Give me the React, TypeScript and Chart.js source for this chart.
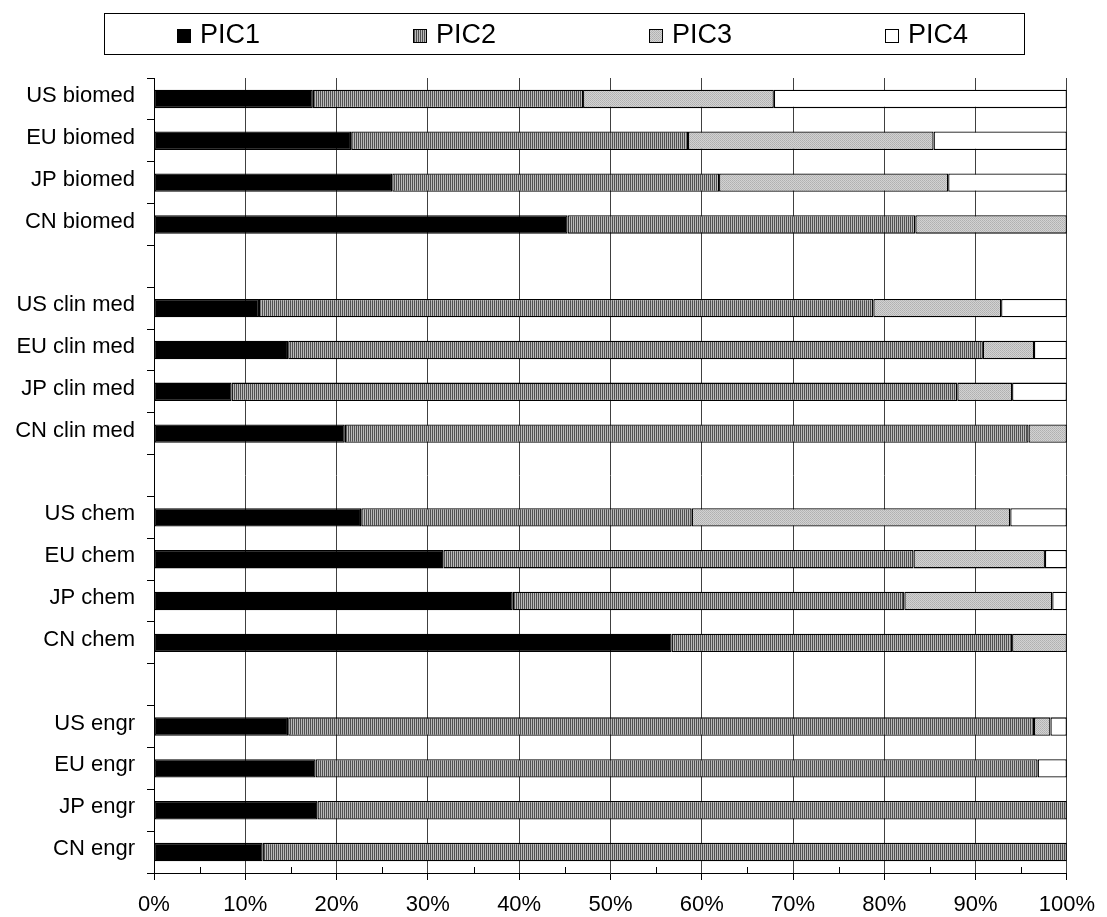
import React, { useEffect, useRef } from 'react';
import { Chart, registerables } from 'chart.js';

Chart.register(...registerables);

const categories = [
  'US biomed', 'EU biomed', 'JP biomed', 'CN biomed', '',
  'US clin med', 'EU clin med', 'JP clin med', 'CN clin med', '',
  'US chem', 'EU chem', 'JP chem', 'CN chem', '',
  'US engr', 'EU engr', 'JP engr', 'CN engr',
];
const seriesNames = ['PIC1', 'PIC2', 'PIC3', 'PIC4'];
const pic1 = [17.4, 21.6, 26.1, 45.3, null, 11.5, 14.7, 8.5, 20.9, null, 22.7, 31.7, 39.3, 56.7, null, 14.7, 17.7, 17.9, 11.9];
const pic2 = [29.6, 36.9, 35.8, 38.1, null, 67.3, 76.1, 79.5, 74.9, null, 36.2, 51.5, 42.9, 37.3, null, 81.7, 79.1, 82.1, 88.1];
const pic3 = [20.9, 26.9, 25.1, 16.6, null, 14.0, 5.6, 6.0, 4.2, null, 34.9, 14.4, 16.2, 6.0, null, 1.8, 0, 0, 0];
const pic4 = [32.1, 14.6, 13.0, 0, null, 7.2, 3.6, 6.0, 0, null, 6.2, 2.4, 1.6, 0, null, 1.8, 3.2, 0, 0];
const xMin = 0;
const xMax = 100;
const xStep = 10;
const minorTickValues = [5, 15, 25, 35, 45, 55, 65, 75, 85, 95];

const FONT = "'Liberation Sans', Arial, sans-serif";

function makePattern(w: number, h: number, pixels: string[]): CanvasPattern | string {
  const c = document.createElement('canvas');
  c.width = w;
  c.height = h;
  const g = c.getContext('2d');
  if (!g) return '#888';
  for (let y = 0; y < h; y++) {
    for (let x = 0; x < w; x++) {
      g.fillStyle = pixels[y * w + x];
      g.fillRect(x, y, 1, 1);
    }
  }
  const p = g.createPattern(c, 'repeat');
  return p || '#888';
}

const boxLegend = {
  id: 'boxLegend',
  afterDraw(chart: any) {
    const ctx = chart.ctx as CanvasRenderingContext2D;
    ctx.save();
    ctx.strokeStyle = '#000';
    ctx.lineWidth = 1;
    ctx.strokeRect(104.5, 13.5, 920, 41);
    ctx.font = `27px ${FONT}`;
    ctx.textBaseline = 'alphabetic';
    ctx.textAlign = 'left';
    chart.data.datasets.forEach((ds: any, i: number) => {
      const x = 177 + i * 236;
      ctx.fillStyle = ds.backgroundColor;
      ctx.fillRect(x, 29, 14, 14);
      ctx.strokeStyle = '#000';
      ctx.strokeRect(x + 0.5, 29.5, 13, 13);
      ctx.fillStyle = '#000';
      ctx.fillText(ds.label, x + 23, 43);
    });
    ctx.restore();
  },
};

const minorTicks = {
  id: 'minorTicks',
  afterDraw(chart: any) {
    const ctx = chart.ctx as CanvasRenderingContext2D;
    const xs = chart.scales.x;
    const bottom = chart.chartArea.bottom;
    ctx.save();
    ctx.strokeStyle = '#000';
    ctx.lineWidth = 1;
    ctx.beginPath();
    minorTickValues.forEach((v) => {
      const px = Math.round(xs.getPixelForValue(v)) + 0.5;
      ctx.moveTo(px, bottom - 6);
      ctx.lineTo(px, bottom);
    });
    ctx.stroke();
    ctx.restore();
  },
};

export default function App() {
  const ref = useRef<HTMLCanvasElement | null>(null);

  useEffect(() => {
    if (!ref.current) return;
    const stripe = makePattern(2, 1, ['#505050', '#bababa']);
    const dots = makePattern(2, 2, ['#b0b0b0', '#d2d2d2', '#d2d2d2', '#b8b8b8']);
    const fills = ['#000000', stripe, dots, '#ffffff'];
    const values = [pic1, pic2, pic3, pic4];

    const chart = new Chart(ref.current, {
      type: 'bar',
      data: {
        labels: categories,
        datasets: seriesNames.map((name, i) => ({
          label: name,
          data: values[i],
          backgroundColor: fills[i] as any,
          borderColor: '#000',
          borderWidth: 1.3,
          borderSkipped: false,
          barPercentage: 0.44,
          categoryPercentage: 1,
        })),
      },
      options: {
        indexAxis: 'y',
        responsive: false,
        animation: false,
        layout: { padding: { top: 78, right: 32, bottom: 0, left: 0 } },
        plugins: {
          legend: { display: false },
          tooltip: { enabled: false },
          title: { display: false },
        },
        scales: {
          x: {
            stacked: true,
            min: xMin,
            max: xMax,
            afterFit: (s: any) => { s.height = 44; },
            ticks: {
              stepSize: xStep,
              color: '#000',
              font: { family: FONT, size: 22 },
              padding: 12,
              callback: (v: any) => `${v}%`,
              maxRotation: 0,
            },
            grid: {
              color: '#404040',
              lineWidth: 1,
              drawTicks: true,
              tickLength: 7,
              tickColor: '#000',
            },
            border: { color: '#000', width: 1 },
          },
          y: {
            stacked: true,
            afterFit: (s: any) => { s.width = 154; },
            ticks: {
              color: '#000',
              font: { family: FONT, size: 22 },
              padding: 12,
              labelOffset: -3,
              autoSkip: false,
            },
            grid: {
              offset: true,
              drawOnChartArea: false,
              drawTicks: true,
              tickLength: 7,
              tickColor: '#000',
              color: '#000',
            },
            border: { color: '#000', width: 1 },
          },
        },
      },
      plugins: [boxLegend, minorTicks],
    });
    return () => chart.destroy();
  }, []);

  return (
    <div style={{ position: 'absolute', left: 0, top: 0, width: 1107, height: 917, background: '#fff' }}>
      <canvas ref={ref} width={1107} height={917} style={{ display: 'block' }} />
    </div>
  );
}
